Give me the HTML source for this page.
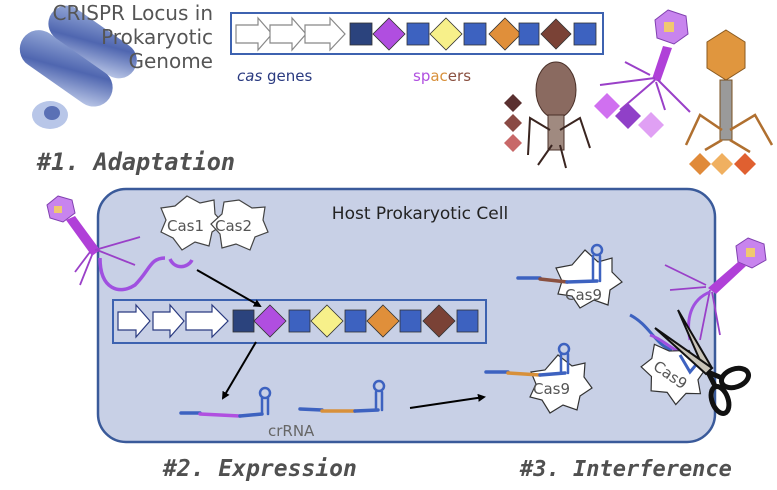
<!DOCTYPE html>
<html><head><meta charset="utf-8"><style>
html,body{margin:0;padding:0;background:#fff;width:777px;height:490px;overflow:hidden}
svg{display:block;font-family:"DejaVu Sans","Liberation Sans",sans-serif}
.mono{font-family:"DejaVu Sans Mono","Liberation Mono",monospace;font-style:italic;font-weight:bold}
</style></head><body>
<svg width="777" height="490" viewBox="0 0 777 490" xmlns="http://www.w3.org/2000/svg">
<defs>
<linearGradient id="bac" x1="0" y1="0" x2="1" y2="1"><stop offset="0" stop-color="#9db0dc"/><stop offset="0.5" stop-color="#4f66b0"/><stop offset="1" stop-color="#c8d3ee"/></linearGradient>
<marker id="ah" markerWidth="8" markerHeight="8" refX="6" refY="4" orient="auto" markerUnits="userSpaceOnUse"><path d="M0,0 L8,4 L0,8 Z" fill="#000"/></marker>
</defs>

<!-- bacteria -->
<g transform="rotate(35 55 80)"><rect x="5" y="45" width="105" height="38" rx="19" fill="url(#bac)"/></g>
<g transform="rotate(35 80 60)"><rect x="30" y="20" width="100" height="36" rx="18" fill="url(#bac)"/></g>
<ellipse cx="50" cy="115" rx="18" ry="14" fill="#b8c6e8"/><ellipse cx="52" cy="113" rx="8" ry="7" fill="#5a70b5"/>

<!-- title text -->
<g fill="#555" font-size="20" text-anchor="end">
<text x="213" y="20">CRISPR Locus in</text>
<text x="213" y="44">Prokaryotic</text>
<text x="213" y="68">Genome</text>
</g>

<!-- top locus -->
<rect x="231" y="13" width="372" height="41" fill="#fff" stroke="#3d62b0" stroke-width="2"/>
<g fill="#fff" stroke="#888" stroke-width="1.2">
<path d="M236,25 L258,25 L258,18 L272,34 L258,50 L258,43 L236,43Z"/>
<path d="M270,25 L292,25 L292,18 L306,34 L292,50 L292,43 L270,43Z"/>
<path d="M305,25 L330,25 L330,18 L345,34 L330,50 L330,43 L305,43Z"/>
</g>
<g stroke="#333" stroke-width="0.8">
<rect x="350" y="23" width="22" height="22" fill="#2b437d"/>
<path d="M389,18 L405,34 L389,50 L373,34Z" fill="#b04ee0"/>
<rect x="407" y="23" width="22" height="22" fill="#3d62c0"/>
<path d="M446,18 L462,34 L446,50 L430,34Z" fill="#f7f08a"/>
<rect x="464" y="23" width="22" height="22" fill="#3d62c0"/>
<path d="M505,18 L521,34 L505,50 L489,34Z" fill="#e08f3a"/>
<rect x="519" y="23" width="20" height="22" fill="#3d62c0"/>
<path d="M556,19 L571,34 L556,49 L541,34Z" fill="#7a4236"/>
<rect x="574" y="23" width="22" height="22" fill="#3d62c0"/>
</g>
<text x="237" y="81" font-size="15" fill="#2a3a80"><tspan font-style="italic">cas</tspan> genes</text>
<text x="413" y="81" font-size="15"><tspan fill="#b050e0">sp</tspan><tspan fill="#d8903a">ac</tspan><tspan fill="#8a5040">ers</tspan></text>

<!-- brown phage -->
<ellipse cx="556" cy="90" rx="20" ry="28" fill="#8a6a60" stroke="#4a3028"/>
<rect x="548" y="115" width="16" height="35" fill="#a08a80" stroke="#4a3028"/>
<g stroke="#3a2520" stroke-width="2" fill="none">
<path d="M550,130 L530,118 L528,155"/><path d="M560,130 L580,118 L590,148"/><path d="M552,145 L538,165"/><path d="M560,145 L566,168"/>
</g>
<g><path d="M513,94 L522,103 L513,112 L504,103Z" fill="#5a3030"/><path d="M513,114 L522,123 L513,132 L504,123Z" fill="#8a4a44"/><path d="M513,134 L522,143 L513,152 L504,143Z" fill="#c86868"/></g>
<!-- purple phage top -->
<path d="M668,10 L686,16 L688,34 L674,44 L657,38 L655,20Z" fill="#c884ee" stroke="#8040b0"/>
<rect x="664" y="22" width="10" height="10" fill="#f0c870"/>
<path d="M663,46 L672,48 L660,82 L652,79Z" fill="#b040d8"/>
<g stroke="#9a40c8" stroke-width="2" fill="none"><path d="M655,78 L600,85"/><path d="M655,80 L620,110"/><path d="M658,80 L690,112"/><path d="M656,82 L665,110"/><path d="M650,75 L625,62"/></g>
<g><path d="M607,93 L620,106 L607,119 L594,106Z" fill="#d070f0"/><path d="M628,103 L641,116 L628,129 L615,116Z" fill="#9040c8"/><path d="M651,112 L664,125 L651,138 L638,125Z" fill="#e0a0f4"/></g>
<!-- orange phage -->
<path d="M726,30 L745,42 L745,68 L726,80 L707,68 L707,42Z" fill="#e0963e" stroke="#8a5a20"/>
<rect x="720" y="80" width="12" height="60" fill="#9a9a9a" stroke="#7a5020"/>
<g stroke="#b07030" stroke-width="2.5" fill="none"><path d="M722,130 L700,115 L686,145"/><path d="M730,130 L755,115 L772,145"/><path d="M722,140 L705,150"/><path d="M730,140 L750,152"/></g>
<g><path d="M700,153 L711,164 L700,175 L689,164Z" fill="#e08a3a"/><path d="M722,153 L733,164 L722,175 L711,164Z" fill="#f0b060"/><path d="M745,153 L756,164 L745,175 L734,164Z" fill="#e06030"/></g>

<text class="mono" x="37" y="170" font-size="23.5" fill="#505050">#1. Adaptation</text>

<!-- cell -->
<rect x="98" y="189" width="617" height="253" rx="28" fill="#c8d0e6" stroke="#3a5a9a" stroke-width="2.5"/>
<text x="420" y="219" font-size="17" fill="#222" text-anchor="middle">Host Prokaryotic Cell</text>

<!-- adaptation phage -->
<path d="M58,196 L72,200 L75,213 L63,222 L50,218 L47,205Z" fill="#c884ee" stroke="#8040b0"/>
<rect x="54" y="206" width="8" height="7" fill="#f0c870"/>
<path d="M66,220 L75,216 L100,250 L92,256Z" fill="#b040d8"/>
<g stroke="#9a40c8" stroke-width="1.8" fill="none"><path d="M95,250 L140,237"/><path d="M97,250 L135,265"/><path d="M92,255 L80,285"/><path d="M90,252 L75,272"/></g>
<path d="M100,258 C100,290 120,295 135,285 C150,270 150,258 165,258" stroke="#a050e0" stroke-width="3.5" fill="none"/>
<path d="M170,259 C175,270 188,268 192,260" stroke="#a050e0" stroke-width="3.5" fill="none"/>

<!-- Cas1 Cas2 -->
<g fill="#fff" stroke="#444" stroke-width="1.2">
<path d="M187,196 L200,203 L214,200 L215,214 L224,224 L212,232 L209,246 L195,242 L182,250 L173,238 L161,232 L166,220 L161,208 L175,206Z"/>
<path d="M239,200 L252,208 L265,207 L263,220 L268,232 L255,237 L250,250 L236,244 L222,248 L220,234 L211,224 L222,214 L224,202Z"/>
</g>
<text x="167" y="231" font-size="15" fill="#555">Cas1</text>
<text x="215" y="231" font-size="15" fill="#555">Cas2</text>

<!-- inner locus -->
<rect x="113" y="300" width="373" height="43" fill="#c8d0e6" stroke="#3d62b0" stroke-width="2"/>
<g fill="#fff" stroke="#2a3a80" stroke-width="1.2">
<path d="M118,312 L136,312 L136,305 L150,321 L136,337 L136,330 L118,330Z"/>
<path d="M153,312 L170,312 L170,305 L184,321 L170,337 L170,330 L153,330Z"/>
<path d="M186,312 L212,312 L212,305 L228,321 L212,337 L212,330 L186,330Z"/>
</g>
<g stroke="#333" stroke-width="0.8">
<rect x="233" y="310" width="21" height="22" fill="#2b437d"/>
<path d="M270,305 L286,321 L270,337 L254,321Z" fill="#b04ee0"/>
<rect x="289" y="310" width="21" height="22" fill="#3d62c0"/>
<path d="M327,305 L343,321 L327,337 L311,321Z" fill="#f7f08a"/>
<rect x="345" y="310" width="21" height="22" fill="#3d62c0"/>
<path d="M383,305 L399,321 L383,337 L367,321Z" fill="#e08f3a"/>
<rect x="400" y="310" width="21" height="22" fill="#3d62c0"/>
<path d="M439,305 L455,321 L439,337 L423,321Z" fill="#7a4236"/>
<rect x="457" y="310" width="21" height="22" fill="#3d62c0"/>
</g>

<!-- arrows -->
<g stroke="#000" stroke-width="2" marker-end="url(#ah)">
<line x1="197" y1="270" x2="260" y2="306"/>
<line x1="256" y1="342" x2="223" y2="398"/>
<line x1="410" y1="408" x2="484" y2="397"/>
</g>

<!-- crRNAs -->
<g fill="none" stroke-width="3.5" stroke-linecap="round">
<path d="M181,413 L200,413" stroke="#3d62c0"/><path d="M200,414 L240,416" stroke="#b050e0"/><path d="M240,416 L262,414" stroke="#3d62c0"/>
<path d="M262,414 L262,398 M268,414 L268,398" stroke="#3d62c0" stroke-width="2.5"/>
<circle cx="265" cy="393" r="5" stroke="#3d62c0" stroke-width="2.5"/>
<path d="M300,409 L322,410" stroke="#3d62c0"/><path d="M322,411 L355,411" stroke="#d8903a"/><path d="M355,411 L378,410" stroke="#3d62c0"/>
<path d="M376,410 L376,392 M382,410 L382,392" stroke="#3d62c0" stroke-width="2.5"/>
<circle cx="379" cy="386" r="5" stroke="#3d62c0" stroke-width="2.5"/>
</g>
<text x="268" y="436" font-size="15" fill="#666">crRNA</text>

<!-- Cas9 top -->
<path d="M585,250 L598,262 L612,258 L612,272 L622,282 L610,290 L608,305 L594,300 L580,308 L572,296 L558,294 L562,281 L556,268 L572,265Z" fill="#fff" stroke="#333" stroke-width="1.2"/>
<g fill="none" stroke-width="3.5" stroke-linecap="round">
<path d="M518,278 L540,278" stroke="#3d62c0"/><path d="M540,279 L567,282" stroke="#8a5040"/><path d="M567,282 L597,281" stroke="#3d62c0"/>
<path d="M593,281 L593,256 M600,281 L600,256" stroke="#3d62c0" stroke-width="2.5"/>
<circle cx="597" cy="250" r="5" stroke="#3d62c0" stroke-width="2.5"/>
</g>
<text x="565" y="300" font-size="15" fill="#555">Cas9</text>

<!-- Cas9 bottom -->
<path d="M558,355 L572,366 L585,363 L584,377 L592,388 L580,396 L577,410 L563,405 L550,413 L542,400 L530,397 L536,384 L531,372 L545,370Z" fill="#fff" stroke="#333" stroke-width="1.2"/>
<g fill="none" stroke-width="3.5" stroke-linecap="round">
<path d="M486,372 L508,372" stroke="#3d62c0"/><path d="M508,373 L540,375" stroke="#d8903a"/><path d="M540,375 L565,373" stroke="#3d62c0"/>
<path d="M561,373 L561,354 M568,373 L568,354" stroke="#3d62c0" stroke-width="2.5"/>
<circle cx="564" cy="349" r="5" stroke="#3d62c0" stroke-width="2.5"/>
</g>
<text x="533" y="394" font-size="15" fill="#555">Cas9</text>

<!-- interference -->
<g stroke="#9a40c8" stroke-width="1.8" fill="none"><path d="M706,285 L665,265"/><path d="M706,287 L670,290"/><path d="M710,290 L700,340"/><path d="M712,292 L720,335"/></g>
<path d="M748,238 L764,244 L766,260 L752,268 L738,262 L736,246Z" fill="#c884ee" stroke="#8040b0"/>
<rect x="746" y="248" width="9" height="9" fill="#f0c870"/>
<path d="M738,262 L746,266 L716,294 L708,288Z" fill="#b040d8"/>
<path d="M710,292 C690,300 686,320 690,340" stroke="#a050e0" stroke-width="3" fill="none"/>
<path d="M630,315 C650,325 655,345 672,350" stroke="#3d62c0" stroke-width="3" fill="none"/>
<path d="M650,335 C665,340 670,350 688,355" stroke="#a050e0" stroke-width="3" fill="none"/>
<g transform="rotate(35 672 375)">
<path d="M672,345 L684,352 L696,350 L696,364 L706,374 L694,382 L692,397 L678,392 L664,400 L656,388 L642,386 L646,373 L640,360 L656,357Z" fill="#fff" stroke="#333" stroke-width="1.2"/>
<text x="652" y="381" font-size="15" fill="#555">Cas9</text>
</g>
<path d="M680,355 L690,372 L700,360" stroke="#3d62c0" stroke-width="3" fill="none"/>
<!-- scissors -->
<path d="M678,310 L712,368 L705,372 Z" fill="#c8c4b8" stroke="#111" stroke-width="2"/>
<path d="M655,328 L712,368 L706,374 Z" fill="#c8c4b8" stroke="#111" stroke-width="2"/>
<ellipse cx="735" cy="378" rx="14" ry="9" fill="none" stroke="#111" stroke-width="5" transform="rotate(-20 735 378)"/>
<ellipse cx="720" cy="400" rx="8" ry="14" fill="none" stroke="#111" stroke-width="5" transform="rotate(-20 720 400)"/>
<path d="M708,372 L722,378 M708,372 L716,388" stroke="#111" stroke-width="5"/>

<text class="mono" x="163" y="476" font-size="23" fill="#505050">#2. Expression</text>
<text class="mono" x="520" y="476" font-size="22" fill="#505050">#3. Interference</text>
</svg>
</body></html>
